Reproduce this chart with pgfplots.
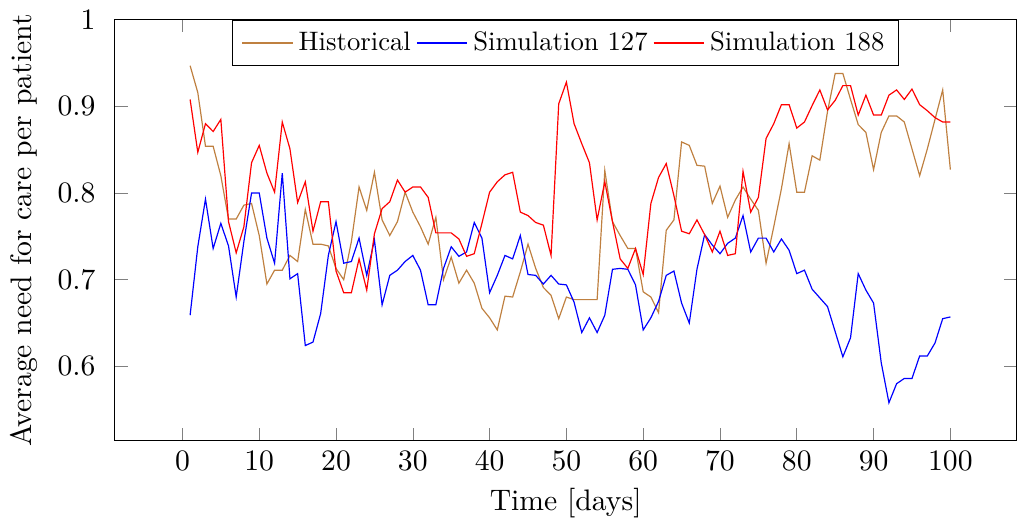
\documentclass[border=0pt]{standalone}
\usepackage{pgfplots}
\pgfplotsset{compat=1.18}
\usepackage{pgfplotstable}
\pgfplotstableread{
d h s r
1 0.947 0.659 0.908
2 0.916 0.738 0.847
3 0.854 0.793 0.880
4 0.854 0.736 0.871
5 0.820 0.765 0.885
6 0.770 0.739 0.767
7 0.770 0.680 0.731
8 0.786 0.744 0.761
9 0.788 0.800 0.835
10 0.751 0.800 0.855
11 0.695 0.748 0.823
12 0.711 0.719 0.801
13 0.711 0.823 0.882
14 0.728 0.701 0.851
15 0.721 0.707 0.789
16 0.781 0.624 0.813
17 0.741 0.628 0.756
18 0.741 0.661 0.790
19 0.739 0.728 0.790
20 0.713 0.767 0.710
21 0.700 0.719 0.685
22 0.744 0.721 0.685
23 0.807 0.748 0.724
24 0.780 0.705 0.688
25 0.824 0.746 0.753
26 0.769 0.671 0.782
27 0.751 0.705 0.790
28 0.767 0.711 0.815
29 0.801 0.721 0.801
30 0.778 0.728 0.807
31 0.761 0.711 0.807
32 0.741 0.671 0.795
33 0.772 0.671 0.754
34 0.700 0.713 0.754
35 0.726 0.738 0.754
36 0.696 0.727 0.747
37 0.711 0.732 0.727
38 0.696 0.766 0.730
39 0.667 0.748 0.765
40 0.656 0.685 0.801
41 0.642 0.705 0.813
42 0.681 0.728 0.821
43 0.680 0.724 0.824
44 0.709 0.751 0.778
45 0.741 0.706 0.774
46 0.713 0.705 0.766
47 0.691 0.695 0.763
48 0.682 0.705 0.728
49 0.655 0.695 0.903
50 0.680 0.694 0.928
51 0.677 0.674 0.880
52 0.677 0.639 0.857
53 0.677 0.656 0.835
54 0.677 0.639 0.769
55 0.826 0.659 0.813
56 0.767 0.712 0.767
57 0.751 0.713 0.724
58 0.736 0.712 0.713
59 0.736 0.694 0.736
60 0.686 0.642 0.706
61 0.680 0.656 0.788
62 0.662 0.675 0.818
63 0.757 0.705 0.834
64 0.769 0.710 0.797
65 0.859 0.673 0.756
66 0.855 0.650 0.753
67 0.832 0.712 0.769
68 0.831 0.752 0.752
69 0.788 0.740 0.732
70 0.808 0.730 0.756
71 0.772 0.742 0.728
72 0.792 0.748 0.730
73 0.807 0.774 0.825
74 0.793 0.732 0.778
75 0.780 0.748 0.795
76 0.719 0.748 0.863
77 0.761 0.732 0.880
78 0.805 0.747 0.902
79 0.857 0.734 0.902
80 0.801 0.707 0.875
81 0.801 0.711 0.882
82 0.843 0.689 0.901
83 0.838 0.679 0.919
84 0.894 0.669 0.896
85 0.938 0.640 0.907
86 0.938 0.611 0.924
87 0.908 0.633 0.924
88 0.879 0.707 0.890
89 0.870 0.688 0.913
90 0.827 0.673 0.890
91 0.870 0.604 0.890
92 0.889 0.558 0.913
93 0.889 0.580 0.919
94 0.882 0.586 0.908
95 0.851 0.586 0.920
96 0.820 0.612 0.902
97 0.851 0.612 0.895
98 0.885 0.627 0.887
99 0.919 0.655 0.882
100 0.827 0.657 0.882
}\data
\begin{document}
\begin{tikzpicture}
\begin{axis}[
  scale only axis,
  width=304pt, height=142pt,
  xmin=-8.8, xmax=108.6,
  ymin=0.514, ymax=1,
  xtick={0,10,...,100},
  ytick={0.6,0.7,0.8,0.9,1},
  yticklabels={0.6,0.7,0.8,0.9,1},
  yticklabel style={xshift=-3pt},
  xlabel={Time [days]},
  xlabel style={yshift=1pt},
  ylabel={Average need for care per patient},
  legend columns=-1,
  legend style={at={(0.5,1)}, anchor=north, draw=black, nodes={scale=0.9, transform shape}},
]
\addplot[brown, no marks] table[x=d,y=h] {\data};
\addlegendentry{Historical}
\addplot[blue, no marks] table[x=d,y=s] {\data};
\addlegendentry{Simulation 127}
\addplot[red, no marks] table[x=d,y=r] {\data};
\addlegendentry{Simulation 188}
\end{axis}
\end{tikzpicture}
\end{document}
